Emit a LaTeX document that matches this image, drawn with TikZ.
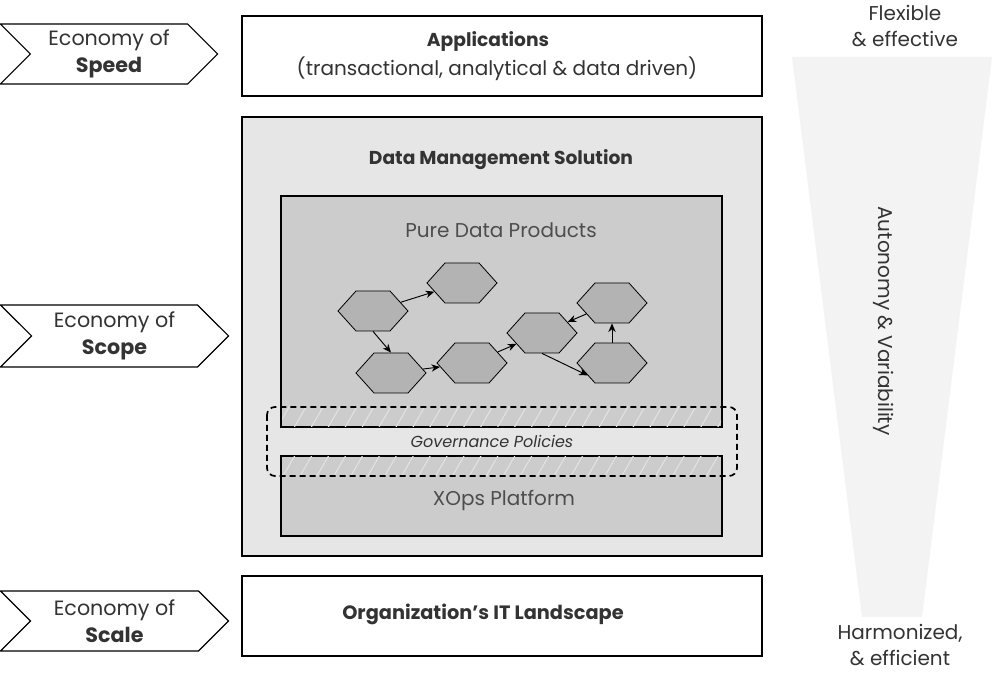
\documentclass[tikz,border=0pt]{standalone}
\usepackage{fontspec}
\setmainfont{Poppins}
\usepackage{xcolor}
\usepackage{tikz}
\usetikzlibrary{shapes.symbols,arrows.meta,patterns.meta}
\definecolor{ink}{HTML}{333333}
\definecolor{softink}{HTML}{4D4D4D}
\definecolor{outergray}{HTML}{E6E6E6}
\definecolor{innergray}{HTML}{CCCCCC}
\definecolor{hexgray}{HTML}{B3B3B3}
\definecolor{funnelgray}{HTML}{F3F3F3}
\definecolor{hatchgray}{HTML}{E2E2E2}
\tikzset{
  layerbox/.style={draw=black, line width=0.8pt},
  chevron/.style={shape=signal, signal from=west, signal to=east, signal pointer angle=90,
    draw=black, line width=0.8pt, fill=white, text=ink, align=center, inner sep=0pt,
    minimum width=163pt, font=\fontsize{15.5}{20}\selectfont},
  product/.style={shape=signal, signal from=east, signal to=east and west, signal pointer angle=96,
    draw=black, line width=0.6pt, fill=hexgray, inner sep=0pt, minimum width=52.5pt, minimum height=30pt},
  flow/.style={-{Stealth[length=6.5pt,width=5.5pt]}, line width=0.7pt, black},
  hatch/.style={pattern={Lines[angle=60,distance=11pt,line width=0.8pt]}, pattern color=hatchgray},
  label/.style={text=ink, font=\fontsize{15}{18}\selectfont},
  title/.style={text=ink, font=\fontsize{14}{17}\bfseries}
}
\begin{document}
\begin{tikzpicture}[x=0.75pt, y=-0.75pt]
  \useasboundingbox (0,0) rectangle (1001,673);
  % funnel on the right
  \fill[funnelgray] (792,57) -- (992,57) -- (922,617) -- (862,617) -- cycle;
  \node[label, rotate=-90] (autonomy) at (884,321) {Autonomy \& Variability};
  \node[label, align=center, font=\fontsize{15}{19.5}\selectfont] (flexible) at (905,26) {Flexible\\\& effective};
  \node[label, align=center, font=\fontsize{15}{19.5}\selectfont] (harmonized) at (900,645) {Harmonized,\\\& efficient};
  % layers
  \draw[layerbox, fill=white] (242,16) rectangle (762,96);
  \node[title] (appsname) at (488,42) {Applications};
  \node[label] (appsnote) at (497,69) {(transactional, analytical \& data driven)};
  \draw[layerbox, fill=outergray] (242,117) rectangle (762,556);
  \node[title] (dms) at (501,160) {Data Management Solution};
  \draw[layerbox, fill=innergray] (281,196) rectangle (722,427);
  \node[label, text=softink] (pure) at (501,230) {Pure Data Products};
  \draw[layerbox, fill=innergray] (281,456) rectangle (722,536);
  \node[label, text=softink] (xops) at (504,500) {XOps Platform};
  \fill[hatch] (282,407) rectangle (721,426.5);
  \fill[hatch] (282,456.5) rectangle (721,476);
  \draw[black, line width=1.3pt, dash pattern=on 4.5pt off 3pt, rounded corners=6pt] (267,407) rectangle (737,476);
  \node[label, font=\fontsize{12}{14}\itshape] (gov) at (492,441) {Governance Policies};
  \draw[layerbox, fill=white] (242,576) rectangle (762,656);
  \node[title, font=\fontsize{14.5}{17}\bfseries] (itland) at (483,614) {Organization's IT Landscape};
  % economies
  \node[chevron, minimum height=45pt] (speed) at (109,54) {Economy of\\\textbf{Speed}};
  \node[chevron, minimum height=46.5pt, minimum width=171pt] (scope) at (114.5,336) {Economy of\\\textbf{Scope}};
  \node[chevron, minimum height=45pt, minimum width=171pt] (scale) at (114.5,621) {Economy of\\\textbf{Scale}};
  % data products
  \node[product] (p1) at (373,311) {};
  \node[product] (p2) at (462,283) {};
  \node[product] (p3) at (391,373) {};
  \node[product] (p4) at (472,363) {};
  \node[product] (p5) at (542,333) {};
  \node[product] (p6) at (612,303) {};
  \node[product] (p7) at (612,363) {};
  \draw[flow] (p1) -- (p2);
  \draw[flow] (p1.south) -- (p3.north);
  \draw[flow] (p3) -- (p4);
  \draw[flow] (p4) -- (p5);
  \draw[flow] (p5.south) -- (p7.207);
  \draw[flow] (p7) -- (p6);
  \draw[flow] (p6) -- (p5);
\end{tikzpicture}
\end{document}
